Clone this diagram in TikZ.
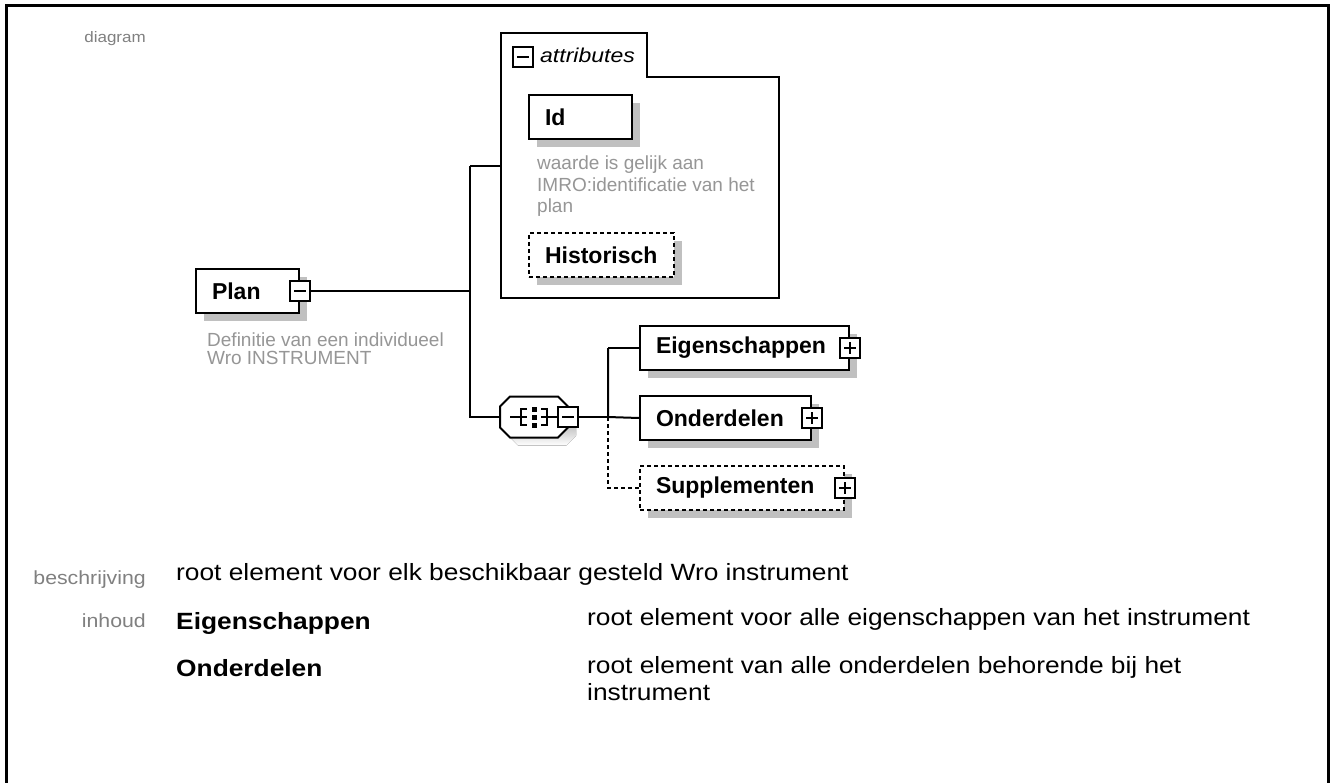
\documentclass[tikz,border=0pt]{standalone}
\usepackage{fontspec}
\setmainfont{Liberation Sans}
\newfontfamily\docfont[FakeStretch=1.12]{Liberation Sans}
\newfontfamily\groupfont[FakeStretch=1.15]{Liberation Sans}
\usetikzlibrary{shadows,calc}

\definecolor{shade}{RGB}{192,192,192}
\definecolor{notegray}{RGB}{150,150,150}
\definecolor{labelgray}{RGB}{128,128,128}

\newcommand\elemfont{\fontsize{23}{25}\selectfont\bfseries}
\newcommand\notefont{\fontsize{19}{18}\selectfont}
\newcommand\labfont{\docfont\fontsize{19}{22}\selectfont}
\newcommand\bodyfont{\docfont\fontsize{23.5}{27}\selectfont}

\tikzset{
  elembox/.style={draw, line width=2pt, fill=white, anchor=north west,
    minimum height=44pt, inner xsep=16pt, inner ysep=0pt,
    text width=#1, align=left, font=\elemfont,
    drop shadow={shadow xshift=8pt, shadow yshift=-8pt, fill=shade, opacity=1}},
  optbox/.style={elembox=#1, dash pattern=on 4pt off 3pt},
  iconbox/.style={draw, line width=1.5pt, fill=white, rectangle,
    minimum size=20pt, inner sep=0pt},
  minusicon/.style={iconbox, path picture={
    \draw[line width=1.5pt] ([xshift=4pt]path picture bounding box.west)
      -- ([xshift=-4pt]path picture bounding box.east);}},
  plusicon/.style={iconbox, path picture={
    \draw[line width=1.5pt] ([xshift=4pt]path picture bounding box.west)
      -- ([xshift=-4pt]path picture bounding box.east);
    \draw[line width=1.5pt] ([yshift=-4pt]path picture bounding box.north)
      -- ([yshift=4pt]path picture bounding box.south);}},
  note/.style={anchor=base west, align=left, inner sep=0pt, text=notegray, font=\notefont},
  link/.style={line width=2pt},
  optlink/.style={line width=2pt, dash pattern=on 4pt off 3pt},
  doclabel/.style={anchor=base east, inner sep=0pt, text=labelgray, font=\labfont},
  doctext/.style={anchor=base west, inner sep=0pt, align=left, font=\bodyfont},
}

\begin{document}
\begin{tikzpicture}[x=1pt, y=-1pt]
\useasboundingbox[fill=white] (0,0) rectangle (1335,783);

% page frame, open at the bottom
\draw[line width=3pt] (6,800) -- (6,6) -- (1328,6) -- (1328,800);

% ---- attributes group
\draw[line width=2pt, fill=white] (501,33) -- (647,33) -- (647,77) -- (779,77)
  -- (779,298) -- (501,298) -- cycle;
\node[minusicon] (attrminus) at (523,57) {};
\node[anchor=base west, inner sep=0pt, font=\groupfont\fontsize{20}{22}\selectfont\itshape]
  (attrtitle) at (540,63) {attributes};
\coordinate (attrin) at (501,166);

\node[elembox=71pt] (id) at (528,94) {Id};
\node[note] (idnote) at (537,213) {waarde is gelijk aan\\[3.5pt]IMRO:identificatie van het\\[3.5pt]plan};
\node[optbox=113pt] (hist) at (528,232) {Historisch};

% ---- root element
\node[elembox=71pt] (plan) at (195,268) {Plan};
\node[minusicon] (planminus) at (plan.east) {};
\node[note] (plannote) at (207,364) {Definitie van een individueel\\Wro INSTRUMENT};

% ---- sequence compositor
\node[minimum width=68pt, minimum height=41pt, inner sep=0pt] (seq) at (534,417) {};
\begin{scope}[shift={($(seq.center)+(8,8)$)}]
  \fill[shade] (-24,-20.5) -- (24,-20.5) -- (34,-10.5) -- (34,10.5) -- (24,20.5)
    -- (-24,20.5) -- (-34,10.5) -- (-34,-10.5) -- cycle;
\end{scope}
\begin{scope}[shift={(seq.center)}]
  \draw[line width=2pt, fill=white] (-24,-20.5) -- (24,-20.5) -- (34,-10.5) -- (34,10.5)
    -- (24,20.5) -- (-24,20.5) -- (-34,10.5) -- (-34,-10.5) -- cycle;
  \draw[line width=1.6pt] (-24,0) -- (-7,0) (7,0) -- (24,0);
  \draw[line width=1.6pt] (-7,-8) -- (-13,-8) -- (-13,8) -- (-7,8);
  \draw[line width=1.6pt] (7,-8) -- (13,-8) -- (13,8) -- (7,8);
  \fill (-2.5,-10.5) rectangle (2.5,-5.5);
  \fill (-2.5,-2.5) rectangle (2.5,2.5);
  \fill (-2.5,5.5) rectangle (2.5,10.5);
\end{scope}
\node[minusicon] (seqminus) at (seq.east) {};

% ---- child elements
\node[elembox=177pt] (eig) at (639,325) {Eigenschappen};
\node[plusicon] (eigplus) at (eig.east) {};
\node[elembox=139pt] (ond) at (639,395) {Onderdelen};
\node[plusicon] (ondplus) at (ond.east) {};
\node[optbox=172pt] (sup) at (639,465) {Supplementen};
\node[plusicon] (supplus) at (sup.east) {};

% ---- connectors
\coordinate (j1) at (470,291);
\coordinate (j2) at (608,417);
\draw[link] (planminus.east) -- (j1);
\draw[link] (attrin -| j1) -- (attrin);
\draw[link] (attrin -| j1) -- (seq.west -| j1) -- (seq.west);
\draw[link] (seqminus.east) -- (j2);
\draw[link] (eig.west -| j2) -- (j2) -- (ond.west);
\draw[link] (eig.west -| j2) -- (eig.west);
\draw[optlink] (j2) -- (sup.west -| j2) -- (sup.west);

% ---- documentation rows
\node[doclabel, font=\docfont\fontsize{15.2}{18}\selectfont] (lbdiagram) at (146,43) {diagram};
\node[doclabel] (lbdesc) at (146,584) {beschrijving};
\node[doctext] (desc) at (176,580) {root element voor elk beschikbaar gesteld Wro instrument};
\node[doclabel] (lbcontent) at (146,627) {inhoud};
\node[doctext, font=\bodyfont\bfseries] (c1name) at (176,629) {Eigenschappen};
\node[doctext] (c1desc) at (587,625) {root element voor alle eigenschappen van het instrument};
\node[doctext, font=\bodyfont\bfseries] (c2name) at (176,676) {Onderdelen};
\node[doctext] (c2desc) at (587,700) {root element van alle onderdelen behorende bij het\\instrument};
\end{tikzpicture}
\end{document}
